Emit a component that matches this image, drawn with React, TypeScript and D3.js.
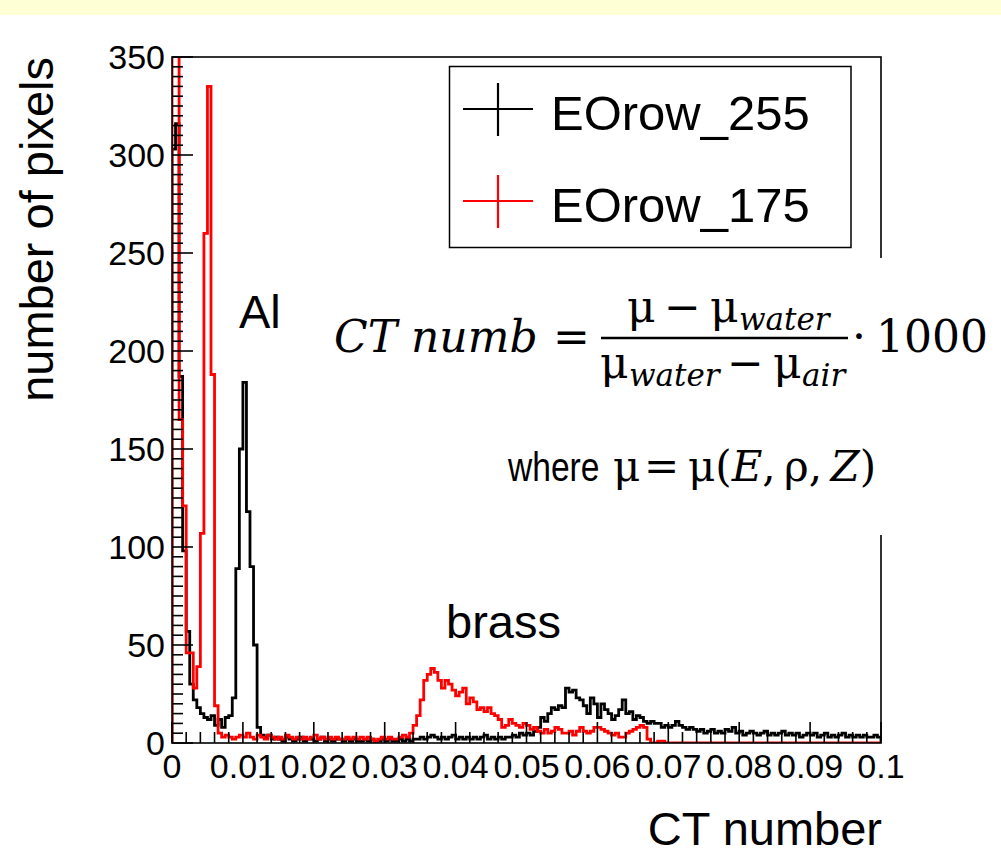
import React from "react";
import * as d3 from "d3";

// Histogram range and binning
const X_MIN = 0;
const X_MAX = 0.1;
const N_BINS = 200;

// Counts per bin, EOrow_255 (black)
const eorow255: number[] = [
  303, 316, 187, 98, 57, 30, 22, 18, 15, 13,
  12, 14, 9, 12, 8, 13, 14, 23, 89, 150,
  184, 118, 90, 50, 8, 4, 3, 4, 2, 3,
  2, 1, 3, 2, 1, 2, 3, 1, 2, 2,
  1, 2, 3, 1, 2, 1, 2, 2, 1, 2,
  1, 2, 1, 1, 2, 1, 2, 1, 1, 2,
  1, 2, 1, 1, 2, 1, 2, 1, 2, 2,
  3, 2, 3, 4, 3, 2, 3, 2, 3, 4,
  2, 3, 2, 3, 2, 3, 2, 3, 4, 2,
  3, 2, 3, 2, 3, 3, 4, 3, 5, 4,
  5, 4, 6, 8, 13, 11, 15, 18, 17, 19,
  18, 28, 26, 27, 23, 22, 19, 15, 23, 20,
  13, 20, 17, 15, 12, 14, 17, 22, 15, 16,
  12, 14, 13, 11, 10, 11, 10, 10, 8, 9,
  8, 9, 11, 9, 8, 7, 8, 7, 6, 7,
  5, 6, 7, 5, 6, 5, 7, 6, 8, 5,
  6, 4, 5, 6, 5, 4, 5, 6, 4, 5,
  4, 5, 6, 4, 5, 4, 5, 3, 4, 5,
  4, 5, 3, 4, 5, 3, 4, 3, 4, 5,
  3, 4, 3, 4, 3, 4, 3, 3, 4, 3,
];

// Counts per bin, EOrow_175 (red)
const eorow175: number[] = [
  480, 400, 165, 121, 46, 46, 28, 39, 107, 260,
  335, 188, 19, 5, 3, 4, 3, 2, 3, 4,
  3, 5, 3, 2, 4, 3, 2, 4, 3, 2,
  3, 2, 4, 3, 2, 3, 2, 3, 2, 3,
  4, 2, 3, 2, 3, 2, 3, 2, 2, 3,
  2, 3, 2, 3, 2, 3, 2, 1, 2, 3,
  2, 3, 2, 2, 3, 4, 3, 5, 9, 14,
  22, 32, 35, 38, 36, 32, 28, 32, 30, 27,
  24, 26, 28, 20, 23, 21, 17, 18, 16, 18,
  15, 14, 12, 8, 9, 12, 10, 9, 8, 10,
  9, 7, 8, 6, 5, 7, 5, 6, 8, 7,
  5, 5, 6, 4, 6, 8, 6, 5, 6, 8,
  8, 7, 6, 5, 4, 5, 3, 3, 5, 6,
  7, 8, 9, 8, 2, 0, 0, 1, 1, 0,
  0, 0, 0, 0, 0, 0, 0, 0, 0, 0,
  0, 0, 0, 0, 0, 0, 0, 0, 0, 0,
  0, 0, 0, 0, 0, 0, 0, 0, 0, 0,
  0, 0, 0, 0, 0, 0, 0, 0, 0, 0,
  0, 0, 0, 0, 0, 0, 0, 0, 0, 0,
  0, 0, 0, 0, 0, 0, 0, 0, 0, 0,
];

const seriesNames = ["EOrow_255", "EOrow_175"];
const seriesColors = ["#000000", "#ff0000"];

const xTickValues = [0, 0.01, 0.02, 0.03, 0.04, 0.05, 0.06, 0.07, 0.08, 0.09, 0.1];
const xTickLabels = ["0", "0.01", "0.02", "0.03", "0.04", "0.05", "0.06", "0.07", "0.08", "0.09", "0.1"];
const yTickValues = [0, 50, 100, 150, 200, 250, 300, 350];
const yTickLabels = ["0", "50", "100", "150", "200", "250", "300", "350"];

const xTitle = "CT number";
const yTitle = "number of pixels";

const SANS = "'Liberation Sans', Arial, Helvetica, sans-serif";
const SERIF = "'DejaVu Serif', serif";

export default function App() {
  const W = 1001;
  const H = 854;
  const frame = { left: 172, right: 881, top: 57, bottom: 743 };

  const x = d3.scaleLinear().domain([X_MIN, X_MAX]).range([frame.left, frame.right]);
  const y = d3.scaleLinear().domain([0, 350]).range([frame.bottom, frame.top]);
  const binW = (X_MAX - X_MIN) / N_BINS;

  const line = d3
    .line<[number, number]>()
    .x((d) => x(d[0]))
    .y((d) => y(d[1]))
    .curve(d3.curveStepAfter);

  // outline of a histogram: rises from zero at the first edge, falls to zero at the last
  const stepPath = (vals: number[]) => {
    const pts: [number, number][] = [[X_MIN, 0]];
    vals.forEach((v, i) => pts.push([X_MIN + i * binW, v]));
    pts.push([X_MAX, vals[vals.length - 1]]);
    pts.push([X_MAX, 0]);
    return line(pts) || "";
  };

  const majorLen = 21;
  const minorLen = 11;
  const xMinor = d3.range(0, 51).map((i) => i * 0.002);
  const yMinor = d3.range(0, 71).map((i) => i * 5);

  const series = [eorow255, eorow175];

  return (
    <div style={{ position: "absolute", left: 0, top: 0 }}>
      <svg width={W} height={H} style={{ display: "block", background: "#ffffff" }}>
        <defs>
          <clipPath id="frameClip">
            <rect x={frame.left} y={frame.top} width={frame.right - frame.left} height={frame.bottom - frame.top} />
          </clipPath>
        </defs>
        <rect x={0} y={0} width={W} height={15} fill="#ffffd5" />

        {/* histograms */}
        <g clipPath="url(#frameClip)">
          {series.map((vals, i) => (
            <path key={i} d={stepPath(vals)} fill="none" stroke={seriesColors[i]} strokeWidth={2.8} strokeLinejoin="miter" />
          ))}
        </g>

        {/* frame */}
        <rect
          x={frame.left}
          y={frame.top}
          width={frame.right - frame.left}
          height={frame.bottom - frame.top}
          fill="none"
          stroke="#000"
          strokeWidth={1.6}
        />

        {/* x ticks */}
        {xMinor.map((v, i) => {
          const isMajor = i % 5 === 0;
          return (
            <line
              key={"xt" + i}
              x1={x(v)}
              x2={x(v)}
              y1={frame.bottom}
              y2={frame.bottom - (isMajor ? majorLen : minorLen)}
              stroke="#000"
              strokeWidth={1.6}
            />
          );
        })}
        {/* y ticks */}
        {yMinor.map((v, i) => {
          const isMajor = i % 10 === 0;
          return (
            <line
              key={"yt" + i}
              x1={frame.left}
              x2={frame.left + (isMajor ? majorLen : minorLen)}
              y1={y(v)}
              y2={y(v)}
              stroke="#000"
              strokeWidth={1.6}
            />
          );
        })}

        {/* tick labels */}
        {xTickValues.map((v, i) => (
          <text key={"xl" + i} x={x(v)} y={778} textAnchor="middle" fontFamily={SANS} fontSize={34} fill="#000">
            {xTickLabels[i]}
          </text>
        ))}
        {yTickValues.map((v, i) => (
          <text key={"yl" + i} x={165} y={y(v) + 12} textAnchor="end" fontFamily={SANS} fontSize={34} fill="#000">
            {yTickLabels[i]}
          </text>
        ))}

        {/* axis titles */}
        <text x={882} y={845} textAnchor="end" fontFamily={SANS} fontSize={47} fill="#000">
          {xTitle}
        </text>
        <text
          transform={`translate(53,57) rotate(-90)`}
          textAnchor="end"
          fontFamily={SANS}
          fontSize={47}
          fill="#000"
        >
          {yTitle}
        </text>

        {/* annotations */}
        <text x={239} y={328} fontFamily={SANS} fontSize={47} fill="#000">Al</text>
        <text x={446} y={638} fontFamily={SANS} fontSize={47} fill="#000">brass</text>

        {/* legend */}
        <rect x={449.5} y={66.5} width={401.5} height={181} fill="#fff" stroke="#000" strokeWidth={1.5} />
        {seriesNames.map((name, i) => {
          const cy = 109 + i * 92;
          return (
            <g key={"lg" + i}>
              <line x1={463} x2={533} y1={cy} y2={cy} stroke={seriesColors[i]} strokeWidth={2.2} />
              <line x1={498} x2={498} y1={cy - 26} y2={cy + 27} stroke={seriesColors[i]} strokeWidth={2.2} />
              <text x={551} y={cy + 21} fontFamily={SANS} fontSize={49} fill="#000">
                {name}
              </text>
            </g>
          );
        })}

        {/* formula panel */}
        <rect x={326} y={258} width={675} height={277} fill="#fff" />
        <g fontFamily={SERIF} fontSize={44} fill="#000">
          <text x={334} y={352} fontStyle="italic">CT numb</text>
          <text x={553} y={352}>=</text>
          <text x={627} y={322}>μ</text>
          <text x={664} y={322}>−</text>
          <text x={710} y={322}>μ</text>
          <text x={739} y={330} fontStyle="italic" fontSize={31}>water</text>
          <line x1={601} x2={848} y1={338} y2={338} stroke="#000" strokeWidth={2.5} />
          <text x={600} y={378}>μ</text>
          <text x={629} y={386} fontStyle="italic" fontSize={31}>water</text>
          <text x={727} y={378}>−</text>
          <text x={773} y={378}>μ</text>
          <text x={802} y={386} fontStyle="italic" fontSize={31}>air</text>
          <text x={852} y={352}>·</text>
          <text x={876} y={352}>1000</text>
        </g>
        <text transform="translate(508,481) scale(0.84,1)" fontFamily={SANS} fontSize={40} fill="#000">
          where
        </text>
        <g fontFamily={SERIF} fontSize={42} fill="#000">
          <text x={613} y={481}>μ</text>
          <text x={644} y={481}>=</text>
          <text x={688} y={481}>
            <tspan>μ(</tspan>
            <tspan fontStyle="italic">E</tspan>
            <tspan>,{"\u2009"}ρ,{"\u2009"}</tspan>
            <tspan fontStyle="italic">Z</tspan>
            <tspan>)</tspan>
          </text>
        </g>
      </svg>
    </div>
  );
}
